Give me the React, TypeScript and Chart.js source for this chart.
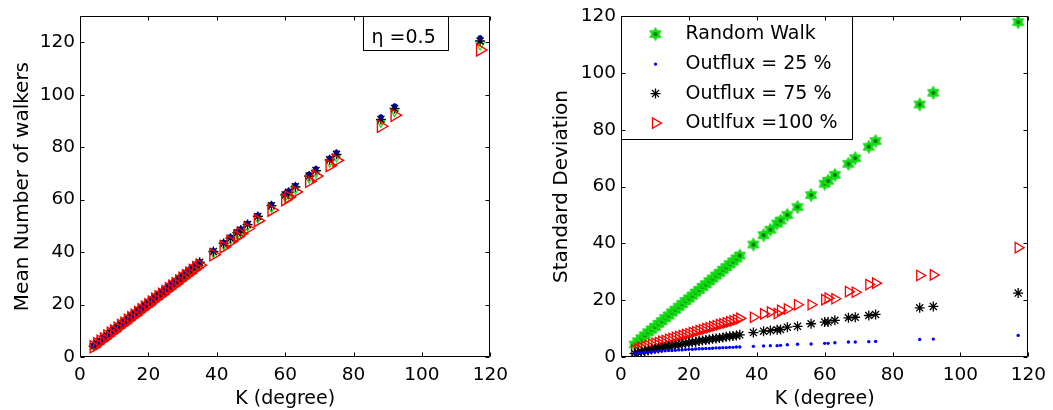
import React, { useEffect, useRef } from 'react';
import { Chart, registerables } from 'chart.js';

Chart.register(...registerables);

// ---------------- data ----------------
const kDegree = [
  4, 5, 6, 7, 8, 9, 10, 11, 12, 13, 14, 15, 16, 17, 18, 19, 20, 21, 22, 23, 24, 25, 26, 27, 28, 29, 30, 31, 32, 33, 34, 35,
  39, 42, 44, 46, 47, 49, 52, 56, 60, 61, 63, 67, 69, 73, 75, 88, 92, 117,
];

// Left panel: mean number of walkers
const meanRandomWalk = [
  4.1, 5.1, 6.1, 7.1, 8.1, 9.1, 10.2, 11.2, 12.2, 13.2, 14.2, 15.2, 16.2, 17.3, 18.3, 19.3, 20.3, 21.3, 22.3, 23.3, 24.4, 25.4,
  26.4, 27.4, 28.4, 29.4, 30.4, 31.5, 32.5, 33.5, 34.5, 35.5,
  39.6, 42.6, 44.7, 46.7, 47.7, 49.7, 52.8, 56.8, 60.9, 61.9, 63.9, 68.0, 70.0, 74.1, 76.1, 89.3, 93.4, 118.8,
];
const meanOutflux25 = [
  4.2, 5.2, 6.2, 7.3, 8.3, 9.4, 10.4, 11.4, 12.5, 13.5, 14.6, 15.6, 16.6, 17.7, 18.7, 19.8, 20.8, 21.8, 22.9, 23.9, 25.0, 26.0,
  27.0, 28.1, 29.1, 30.2, 31.2, 32.2, 33.3, 34.3, 35.4, 36.4,
  40.6, 43.7, 45.8, 47.8, 48.9, 51.0, 54.1, 58.2, 62.4, 63.4, 65.5, 69.7, 71.8, 75.9, 78.0, 91.5, 95.7, 121.7,
];
const meanOutflux75 = [
  4.1, 5.2, 6.2, 7.2, 8.2, 9.3, 10.3, 11.3, 12.4, 13.4, 14.4, 15.5, 16.5, 17.5, 18.5, 19.6, 20.6, 21.6, 22.7, 23.7, 24.7, 25.8,
  26.8, 27.8, 28.8, 29.9, 30.9, 31.9, 33.0, 34.0, 35.0, 36.1,
  40.2, 43.3, 45.3, 47.4, 48.4, 50.5, 53.6, 57.7, 61.8, 62.8, 64.9, 69.0, 71.1, 75.2, 77.3, 90.6, 94.8, 120.5,
];
const meanOutflux100 = [
  3.9, 5.0, 6.0, 6.9, 8.0, 9.0, 9.9, 11.0, 12.0, 12.9, 14.0, 15.0, 15.9, 17.0, 18.0, 19.0, 19.9, 21.0, 22.0, 23.0, 23.9, 25.0,
  26.0, 27.0, 27.9, 29.0, 30.0, 31.0, 31.9, 33.0, 34.0, 35.0,
  39.0, 42.0, 44.0, 45.9, 47.0, 49.0, 52.0, 56.0, 60.0, 61.0, 63.0, 67.0, 69.0, 73.0, 75.0, 88.0, 92.2, 117.1,
];

// Right panel: standard deviation
const stdRandomWalk = [
  4.4, 5.5, 6.6, 7.6, 8.7, 9.7, 10.6, 11.7, 12.6, 13.7, 14.6, 15.7, 16.6, 17.7, 18.6, 19.7, 20.6, 21.6, 22.7, 23.6, 24.7, 25.6,
  26.7, 27.6, 28.7, 29.6, 30.7, 31.6, 32.7, 33.6, 34.7, 35.7,
  39.6, 42.9, 44.8, 47.0, 48.0, 50.0, 52.8, 57.0, 61.0, 62.0, 64.1, 68.0, 70.0, 74.0, 76.0, 88.9, 93.0, 117.9,
];
const stdOutflux25 = [
  1.2, 1.4, 1.5, 1.6, 1.7, 1.8, 1.9, 2.0, 2.1, 2.2, 2.3, 2.3, 2.4, 2.5, 2.5, 2.6, 2.7, 2.7, 2.8, 2.9, 2.9, 3.0,
  3.0, 3.1, 3.2, 3.2, 3.3, 3.3, 3.4, 3.4, 3.5, 3.5,
  3.75, 3.9, 4.0, 4.0, 4.1, 4.3, 4.5, 4.6, 4.8, 4.8, 5.0, 5.3, 5.3, 5.4, 5.5, 6.2, 6.3, 7.6,
];
const stdOutflux75 = [
  1.3, 1.6, 1.8, 2.1, 2.3, 2.6, 2.8, 3.0, 3.3, 3.5, 3.7, 3.9, 4.1, 4.3, 4.6, 4.8, 5.0, 5.2, 5.4, 5.6, 5.8, 6.0,
  6.2, 6.4, 6.5, 6.7, 6.9, 7.1, 7.3, 7.4, 7.6, 7.8,
  8.6, 9.1, 9.3, 9.6, 9.7, 10.5, 10.8, 11.7, 12.3, 12.3, 12.9, 13.8, 14.0, 14.6, 15.0, 17.3, 17.8, 22.5,
];
const stdOutflux100 = [
  2.4, 2.9, 3.3, 3.7, 4.0, 4.4, 4.8, 5.1, 5.5, 5.8, 6.2, 6.5, 6.9, 7.2, 7.5, 7.9, 8.2, 8.6, 8.9, 9.3, 9.6, 10.0,
  10.3, 10.7, 11.0, 11.4, 11.7, 12.0, 12.4, 12.7, 13.1, 13.6,
  14.0, 15.2, 15.8, 15.3, 16.4, 16.9, 18.4, 18.4, 20.2, 20.7, 20.5, 23.0, 22.8, 25.5, 26.0, 28.7, 28.9, 38.5,
];

const xTicks = [0, 20, 40, 60, 80, 100, 120];
const yTicksLeft = [0, 20, 40, 60, 80, 100, 120];
const yTicksRight = [0, 20, 40, 60, 80, 100, 120];

const seriesLabels = ['Random Walk', 'Outflux = 25 %', 'Outflux = 75 %', 'Outlfux =100 %'];
const etaLabel = '\u03b7 =0.5';
const xTitle = 'K (degree)';
const leftYTitle = 'Mean Number of walkers';
const rightYTitle = 'Standard Deviation';

// ---------------- styling ----------------
const FONT = "'DejaVu Sans', 'Liberation Sans', sans-serif";
const TICK_SIZE = 18.5;
const TEXT_SIZE = 19;
const GREEN = '#12e012';
const BLUE = '#0000ff';
const RED = '#ff0000';
const BLACK = '#000000';

function makeHexagram(): HTMLCanvasElement {
  const c = document.createElement('canvas');
  c.width = 16;
  c.height = 16;
  const ctx = c.getContext('2d')!;
  const cx = 8, cy = 8, ro = 6.6, ri = 3.8;
  ctx.beginPath();
  for (let i = 0; i < 12; i++) {
    const a = -Math.PI / 2 + (i * Math.PI) / 6;
    const r = i % 2 === 0 ? ro : ri;
    const x = cx + r * Math.cos(a);
    const y = cy + r * Math.sin(a);
    if (i === 0) ctx.moveTo(x, y);
    else ctx.lineTo(x, y);
  }
  ctx.closePath();
  ctx.fillStyle = GREEN;
  ctx.fill();
  ctx.strokeStyle = '#0bd00b';
  ctx.lineWidth = 0.8;
  ctx.stroke();
  ctx.fillStyle = '#0a6a0a';
  ctx.beginPath();
  ctx.arc(cx, cy, 1.9, 0, Math.PI * 2);
  ctx.fill();
  return c;
}

function toPoints(ys: number[]) {
  return kDegree.map((k, i) => ({ x: k, y: ys[i] }));
}

function drawFrame(chart: any, yTicks: number[]) {
  const { ctx, chartArea } = chart;
  const xs = chart.scales.x;
  const ys = chart.scales.y;
  const L = Math.round(chartArea.left) + 0.5;
  const R = Math.round(chartArea.right) - 0.5;
  const T = Math.round(chartArea.top) + 0.5;
  const B = Math.round(chartArea.bottom) - 0.5;
  const tl = 4;
  ctx.save();
  ctx.strokeStyle = '#000';
  ctx.lineWidth = 1;
  ctx.beginPath();
  ctx.rect(L, T, R - L, B - T);
  for (const v of xTicks) {
    const px = Math.round(xs.getPixelForValue(v)) + 0.5;
    ctx.moveTo(px, B);
    ctx.lineTo(px, B - tl);
    ctx.moveTo(px, T);
    ctx.lineTo(px, T + tl);
  }
  for (const v of yTicks) {
    const py = Math.round(ys.getPixelForValue(v)) + 0.5;
    ctx.moveTo(L, py);
    ctx.lineTo(L + tl, py);
    ctx.moveTo(R, py);
    ctx.lineTo(R - tl, py);
  }
  ctx.stroke();
  ctx.restore();
}

function drawTitles(chart: any, yTitle: string, yTitleX: number) {
  const { ctx, chartArea } = chart;
  ctx.save();
  ctx.fillStyle = '#000';
  ctx.font = `${TEXT_SIZE}px ${FONT}`;
  ctx.textAlign = 'center';
  ctx.textBaseline = 'alphabetic';
  ctx.fillText(xTitle, (chartArea.left + chartArea.right) / 2, 404);
  ctx.translate(yTitleX, (chartArea.top + chartArea.bottom) / 2);
  ctx.rotate(-Math.PI / 2);
  ctx.font = `20px ${FONT}`;
  ctx.fillText(yTitle, 0, 0);
  ctx.restore();
}

function scaleOpts(min: number, max: number, ticks: number[], fixed: number, horizontal: boolean) {
  return {
    type: 'linear',
    min,
    max,
    afterBuildTicks: (s: any) => {
      s.ticks = ticks.map((v) => ({ value: v }));
    },
    afterFit: (s: any) => {
      if (horizontal) s.height = fixed;
      else s.width = fixed;
    },
    grid: { display: false, drawTicks: false },
    border: { display: false },
    title: { display: false },
    ticks: {
      color: '#000',
      font: { family: FONT, size: TICK_SIZE },
      padding: horizontal ? 7 : 5,
      maxRotation: 0,
      autoSkip: false,
    },
  };
}

function LeftChart() {
  const ref = useRef<HTMLCanvasElement | null>(null);
  useEffect(() => {
    if (!ref.current) return;
    const framePlugin = {
      id: 'leftFrame',
      afterDraw(chart: any) {
        drawFrame(chart, yTicksLeft);
        drawTitles(chart, leftYTitle, 28);
        const { ctx, chartArea } = chart;
        ctx.save();
        const bx = Math.round(chartArea.right) - 127 + 0.5;
        const by = Math.round(chartArea.top) + 0.5;
        ctx.fillStyle = '#fff';
        ctx.fillRect(bx, by, 85, 34);
        ctx.strokeStyle = '#000';
        ctx.lineWidth = 1;
        ctx.strokeRect(bx, by, 85, 34);
        ctx.fillStyle = '#000';
        ctx.font = `${TEXT_SIZE}px ${FONT}`;
        ctx.textAlign = 'left';
        ctx.textBaseline = 'alphabetic';
        ctx.fillText(etaLabel, bx + 8, by + 26);
        ctx.restore();
      },
    };
    const chart = new Chart(ref.current, {
      type: 'scatter',
      data: {
        datasets: [
          {
            label: seriesLabels[0],
            data: toPoints(meanRandomWalk),
            pointStyle: 'triangle',
            rotation: 180,
            radius: 4.5,
            borderColor: GREEN,
            backgroundColor: 'rgba(0,0,0,0)',
            borderWidth: 1.2,
            order: 3,
          },
          {
            label: seriesLabels[1],
            data: toPoints(meanOutflux25),
            pointStyle: 'star',
            radius: 2.8,
            borderColor: '#00008c',
            backgroundColor: '#00008c',
            borderWidth: 1.6,
            order: 1,
          },
          {
            label: seriesLabels[2],
            data: toPoints(meanOutflux75),
            pointStyle: 'star',
            radius: 5,
            borderColor: BLACK,
            backgroundColor: BLACK,
            borderWidth: 1.3,
            order: 2,
          },
          {
            label: seriesLabels[3],
            data: toPoints(meanOutflux100),
            pointStyle: 'triangle',
            rotation: 90,
            radius: 7,
            borderColor: RED,
            backgroundColor: 'rgba(0,0,0,0)',
            borderWidth: 1.4,
            order: 0,
          },
        ],
      },
      options: {
        animation: false,
        responsive: false,
        devicePixelRatio: 1,
        layout: { padding: { left: 0, top: 14, right: 24, bottom: 0 } },
        plugins: { legend: { display: false }, tooltip: { enabled: false } },
        scales: {
          x: scaleOpts(0, 120, xTicks, 53, true),
          y: scaleOpts(0, 130, yTicksLeft, 80, false),
        },
      } as any,
      plugins: [framePlugin],
    });
    return () => chart.destroy();
  }, []);
  return <canvas ref={ref} width={515} height={410} style={{ position: 'absolute', left: 0, top: 0 }} />;
}

function RightChart() {
  const ref = useRef<HTMLCanvasElement | null>(null);
  useEffect(() => {
    if (!ref.current) return;
    const hexagram = makeHexagram();
    const framePlugin = {
      id: 'rightFrame',
      afterDraw(chart: any) {
        const { ctx, chartArea } = chart;
        // legend box
        const bx = Math.round(chartArea.left) + 0.5;
        const by = Math.round(chartArea.top) + 0.5;
        const bw = 231;
        const bh = 123;
        ctx.save();
        ctx.fillStyle = '#fff';
        ctx.fillRect(bx, by, bw, bh);
        ctx.strokeStyle = '#000';
        ctx.lineWidth = 1;
        ctx.strokeRect(bx, by, bw, bh);
        const mx = bx + 34;
        const tx = bx + 64;
        const rows = [17.6, 47.6, 77.1, 106.6];
        ctx.font = `${TEXT_SIZE}px ${FONT}`;
        ctx.textAlign = 'left';
        ctx.textBaseline = 'middle';
        rows.forEach((dy, i) => {
          const y = by + dy;
          if (i === 0) {
            ctx.drawImage(hexagram, mx - 8, y - 8);
          } else if (i === 1) {
            ctx.fillStyle = BLUE;
            ctx.beginPath();
            ctx.arc(mx, y, 1.7, 0, Math.PI * 2);
            ctx.fill();
          } else if (i === 2) {
            ctx.strokeStyle = BLACK;
            ctx.lineWidth = 1.3;
            ctx.beginPath();
            const r = 5;
            ctx.moveTo(mx - r, y); ctx.lineTo(mx + r, y);
            ctx.moveTo(mx, y - r); ctx.lineTo(mx, y + r);
            const d = r * Math.SQRT1_2;
            ctx.moveTo(mx - d, y - d); ctx.lineTo(mx + d, y + d);
            ctx.moveTo(mx - d, y + d); ctx.lineTo(mx + d, y - d);
            ctx.stroke();
          } else {
            ctx.strokeStyle = RED;
            ctx.lineWidth = 1.3;
            const r = 6;
            ctx.beginPath();
            ctx.moveTo(mx + r, y);
            ctx.lineTo(mx - r / 2, y - r * 0.866);
            ctx.lineTo(mx - r / 2, y + r * 0.866);
            ctx.closePath();
            ctx.stroke();
          }
          ctx.fillStyle = '#000';
          ctx.fillText(seriesLabels[i], tx, y);
        });
        ctx.restore();
        drawFrame(chart, yTicksRight);
        drawTitles(chart, rightYTitle, 37);
      },
    };
    const chart = new Chart(ref.current, {
      type: 'scatter',
      data: {
        datasets: [
          {
            label: seriesLabels[0],
            data: toPoints(stdRandomWalk),
            pointStyle: hexagram,
            radius: 7,
            order: 3,
          },
          {
            label: seriesLabels[1],
            data: toPoints(stdOutflux25),
            pointStyle: 'circle',
            radius: 1.7,
            borderWidth: 0,
            backgroundColor: BLUE,
            borderColor: BLUE,
            order: 0,
          },
          {
            label: seriesLabels[2],
            data: toPoints(stdOutflux75),
            pointStyle: 'star',
            radius: 5,
            borderColor: BLACK,
            backgroundColor: BLACK,
            borderWidth: 1.3,
            order: 1,
          },
          {
            label: seriesLabels[3],
            data: toPoints(stdOutflux100),
            pointStyle: 'triangle',
            rotation: 90,
            radius: 6,
            borderColor: RED,
            backgroundColor: 'rgba(0,0,0,0)',
            borderWidth: 1.3,
            order: 2,
          },
        ],
      },
      options: {
        animation: false,
        responsive: false,
        devicePixelRatio: 1,
        layout: { padding: { left: 0, top: 15, right: 22, bottom: 0 } },
        plugins: { legend: { display: false }, tooltip: { enabled: false } },
        scales: {
          x: scaleOpts(0, 120, xTicks, 53, true),
          y: scaleOpts(0, 120, yTicksRight, 91, false),
        },
      } as any,
      plugins: [framePlugin],
    });
    return () => chart.destroy();
  }, []);
  return <canvas ref={ref} width={523} height={410} style={{ position: 'absolute', left: 530, top: 0 }} />;
}

export default function App() {
  return (
    <div
      style={{
        position: 'fixed',
        left: 0,
        top: 0,
        width: 1053,
        height: 410,
        background: '#fff',
        overflow: 'hidden',
      }}
    >
      <LeftChart />
      <RightChart />
    </div>
  );
}
